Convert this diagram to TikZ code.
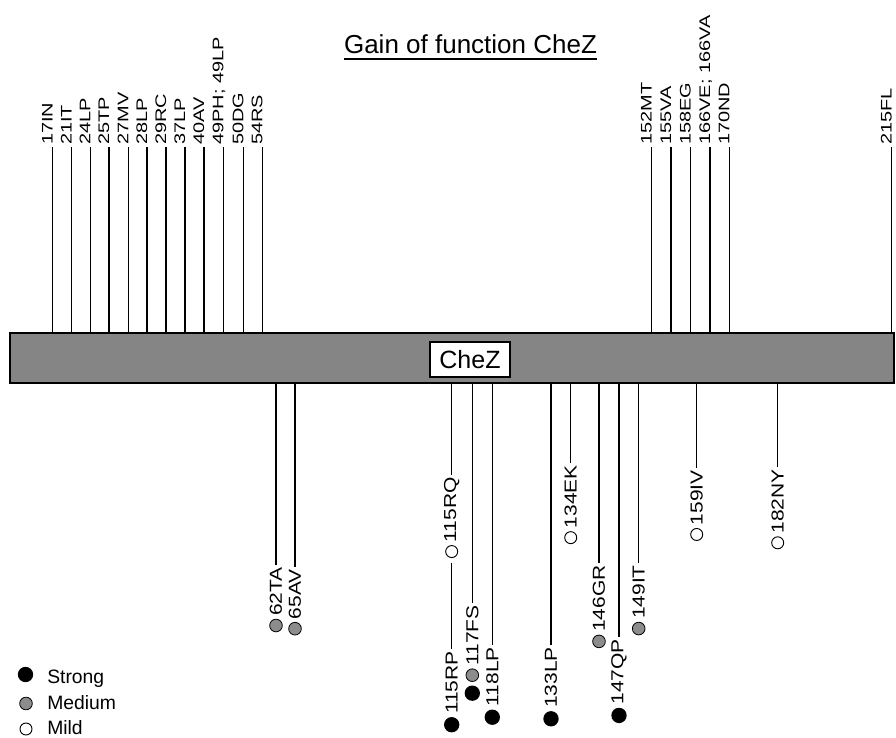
\documentclass[tikz,border=0pt]{standalone}
\usepackage{fontspec}
\setmainfont{Liberation Sans}
\newfontfamily\topfont[FakeStretch=1.3]{Liberation Sans}
\newfontfamily\botfont[FakeStretch=1.21]{Liberation Sans}
\begin{document}
\begin{tikzpicture}[x=0.75pt,y=-0.75pt,
  toplbl/.style={rotate=90, anchor=base west, inner sep=0, font=\topfont\fontsize{11.5}{13}\selectfont},
  botlbl/.style={rotate=90, anchor=east, inner sep=0, font=\botfont\fontsize{13}{15}\selectfont},
  sdot/.style={circle, fill=black, inner sep=0, minimum size=11.5pt},
  mdot/.style={circle, fill=black!45, draw=black, line width=0.6pt, inner sep=0, minimum size=9.5pt},
  odot/.style={circle, draw=black, line width=0.7pt, inner sep=0, minimum size=9pt},
  stem/.style={line width=1.05pt},
  legtext/.style={anchor=base west, inner sep=0, font=\fontsize{14.5}{16}\selectfont}]
\useasboundingbox (0,0) rectangle (896,738);

% title
\node[anchor=base, inner sep=0, font=\fontsize{19.5}{22}\selectfont] (title) at (470.5,54) {Gain of function CheZ};
\draw[line width=1pt] ([yshift=-3.8pt]title.base west) -- ([yshift=-3.8pt]title.base east);

% bar
\node[draw, line width=2pt, fill=black!48, minimum width=663pt, minimum height=37.5pt, inner sep=0] (bar) at (452,358) {};
\node[draw, fill=white, line width=1.8pt, minimum width=60pt, minimum height=26pt, inner sep=0, font=\fontsize{18.75}{20}\selectfont] (chez) at (470,359.5) {CheZ};

% top labels
\foreach \x/\t [count=\i] in {52.7/17IN, 71.7/21IT, 90.3/24LP, 109/25TP, 128.3/27MV, 147/28LP, 166/29RC, 185/37LP, 204/40AV, 223.3/49PH; 49LP, 243.3/50DG, 262.3/54RS, 651.7/152MT, 671/155VA, 690.7/158EG, 710/166VE; 166VA, 729.3/170ND, 891.7/215FL}{
  \node[toplbl] (top\i) at (\x,145) {\t};
  \draw[stem] ([yshift=-1.5pt]top\i.base west) -- (top\i.base west |- bar.north);
}

% bottom labels: x / label top y / text / marker style
\foreach \x/\y/\t/\m [count=\i] in {276/567/62TA/mdot, 295/569/65AV/mdot, 472.3/605/117FS/mdot, 492.3/647/118LP/sdot, 551/647/133LP/sdot, 570.7/465/134EK/odot, 599/565/146GR/mdot, 619/639/147QP/sdot, 638.7/565/149IT/mdot, 696.7/470/159IV/odot, 777.7/469/182NY/odot}{
  \node[botlbl] (bot\i) at (\x,\y) {\t};
  \node[\m, anchor=north] (mk\i) at ([yshift=-2pt]bot\i.west) {};
  \draw[stem] (bot\i.east |- bar.south) -- ([yshift=1.5pt]bot\i.east);
}
% extra strong marker below 117FS
\node[sdot, anchor=north] (mk3b) at ([yshift=-2.5pt]mk3.south) {};

% position 115: two labels on one stem
\node[botlbl] (q115) at (451.7,477) {115RQ};
\node[odot, anchor=north] (mq115) at ([yshift=-2pt]q115.west) {};
\node[botlbl] (p115) at (451.7,651) {115RP};
\node[sdot, anchor=north] (mp115) at ([yshift=-2pt]p115.west) {};
\draw[stem] (q115.east |- bar.south) -- ([yshift=1.5pt]q115.east);
\draw[stem] ([yshift=-3.5pt]mq115.south) -- ([yshift=1.5pt]p115.east);

% legend
\node[sdot] (ls) at (25.5,674.5) {};
\node[legtext] (lst) at (47,683) {Strong};
\node[mdot, minimum size=9.5pt] (lm) at (26,703.5) {};
\node[legtext] (lmt) at (47,709) {Medium};
\node[odot, minimum size=9pt] (lo) at (26,729) {};
\node[legtext] (lot) at (47,734) {Mild};
\end{tikzpicture}
\end{document}
